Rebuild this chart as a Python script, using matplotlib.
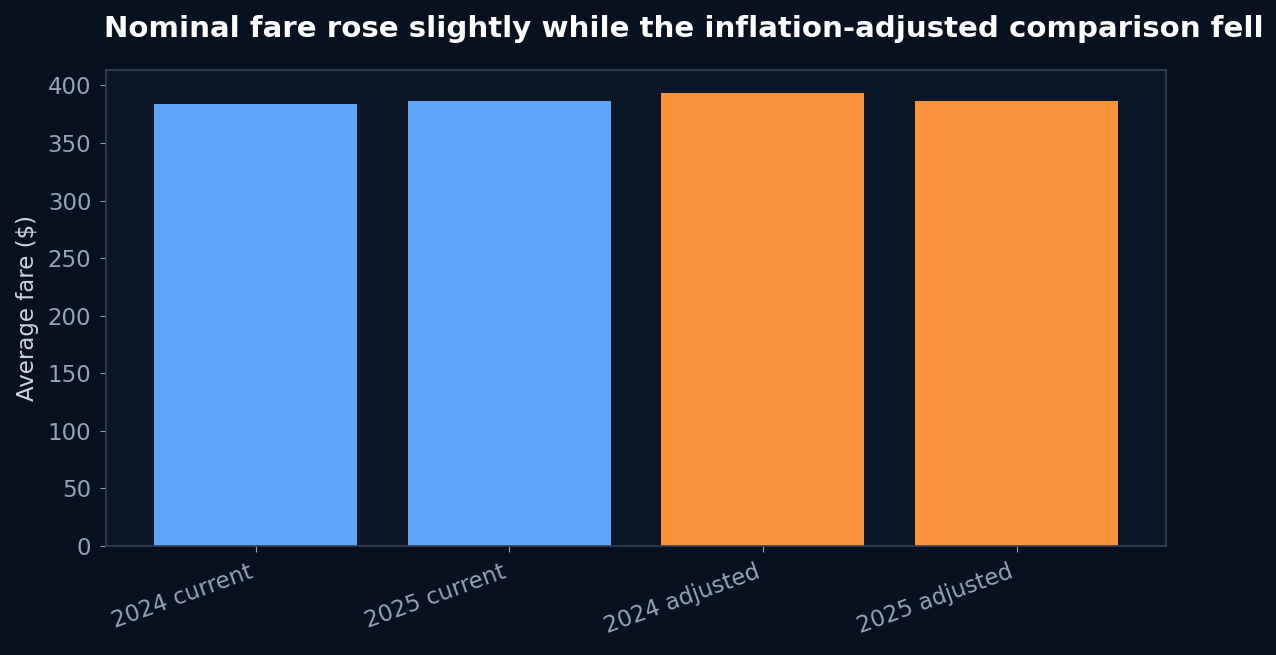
import matplotlib
matplotlib.use('Agg')
import matplotlib.pyplot as plt

categories = ['2024 current', '2025 current', '2024 adjusted', '2025 adjusted']
fares = [384.1, 386.7, 393.6, 386.7]
bar_colors = ['#60a5fa', '#60a5fa', '#fb923c', '#fb923c']

fig = plt.figure(figsize=(12.76, 6.55), dpi=100, facecolor='#08111f')
ax = fig.add_axes([0.083, 0.1664, 0.831, 0.7266])
ax.set_facecolor('#0b1628')

ax.bar(range(len(categories)), fares, width=0.8, color=bar_colors)
ax.set_xticks(range(len(categories)))
ax.set_xticklabels(categories, rotation=20, ha='right', rotation_mode='default')
ax.set_ylabel('Average fare ($)', fontsize=16.5, color='#cbd5e1', labelpad=6.5)
ax.set_title('Nominal fare rose slightly while the inflation-adjusted comparison fell',
             fontsize=21.1, fontweight='bold', color='white', pad=24, x=0.545)

ax.tick_params(axis='both', labelsize=16.5, colors='#94a3b8', length=4.5, pad=6)
for s in ax.spines.values():
    s.set_color('#334155')
    s.set_linewidth(1.2)

fig.savefig('out.png', dpi=100, facecolor=fig.get_facecolor())
